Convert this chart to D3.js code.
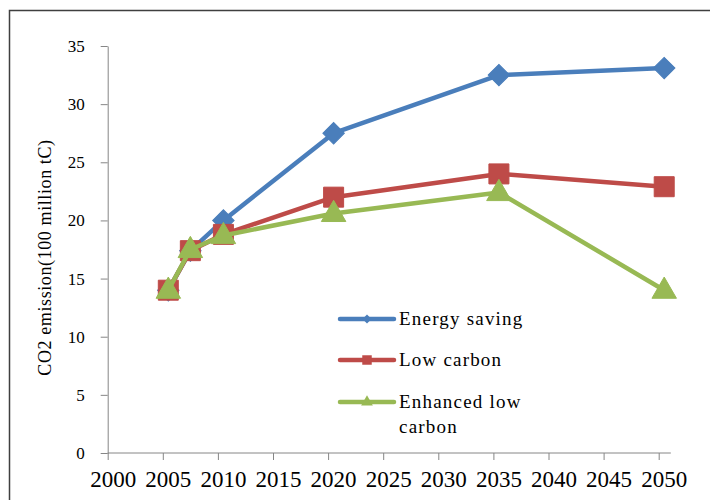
<!DOCTYPE html>
<html>
<head>
<meta charset="utf-8">
<script src="https://cdn.jsdelivr.net/npm/d3@7"></script>
<style>
  body { margin: 0; background: #fff; }
  svg { display: block; }
</style>
</head>
<body>
<div id="chart"></div>
<script>
// DATA ---------------------------------------------------------------
const years = [2005.5, 2007.5, 2010.5, 2020.5, 2035.5, 2050.5];
const energySaving = [14.0, 17.4, 20.0, 27.5, 32.5, 33.1];
const lowCarbon = [14.0, 17.4, 18.8, 22.0, 24.0, 22.9];
const enhancedLowCarbon = [14.0, 17.5, 18.7, 20.6, 22.4, 14.0];
const seriesNames = ["Energy saving", "Low carbon", "Enhanced low carbon"];
const xTicks = [2000, 2005, 2010, 2015, 2020, 2025, 2030, 2035, 2040, 2045, 2050];
const yTicks = [0, 5, 10, 15, 20, 25, 30, 35];
// DATA ---------------------------------------------------------------

const width = 710, height = 500;
const serif = "'Liberation Serif', 'Times New Roman', Times, serif";
const colors = ["#4A7EBB", "#BE4B48", "#98B954"];
const shapes = ["diamond", "square", "triangle"];

const svg = d3.select("#chart").append("svg")
  .attr("width", width).attr("height", height)
  .style("font-family", serif);

// outer frame
svg.append("rect")
  .attr("x", 9.5).attr("y", 10.5)
  .attr("width", 720).attr("height", 520)
  .attr("fill", "none").attr("stroke", "#3f3f3f").attr("stroke-width", 1.5);

const x = d3.scaleLinear().domain([2000, 2050]).range([107.7, 658.7]);
const y = d3.scaleLinear().domain([0, 35]).range([453, 46]);

// AXES
const xAxis = svg.append("g")
  .attr("transform", `translate(0,${y(0)})`)
  .call(d3.axisBottom(x).tickValues(xTicks).tickFormat(d3.format("d")).tickSize(7).tickSizeOuter(0))
  .attr("font-family", null).attr("font-size", null);
xAxis.select(".domain").remove();
xAxis.append("line")
  .attr("x1", x(2000)).attr("x2", x(2051.1))
  .attr("stroke", "#868686");
xAxis.selectAll(".tick line").attr("stroke", "#868686");
xAxis.selectAll(".tick text")
  .attr("fill", "#000").attr("x", 5).attr("y", 34).attr("dy", null)
  .style("font-family", serif)
  .style("font-size", "23px");

const yAxis = svg.append("g")
  .attr("transform", `translate(${x(2000)},0)`)
  .call(d3.axisLeft(y).tickValues(yTicks).tickSize(7).tickSizeOuter(0))
  .attr("font-family", null).attr("font-size", null);
yAxis.select(".domain").attr("stroke", "#868686");
yAxis.selectAll(".tick line").attr("stroke", "#868686");
yAxis.selectAll(".tick text")
  .attr("fill", "#000").attr("x", -23)
  .style("font-family", serif)
  .style("font-size", "17px");

svg.append("text")
  .attr("transform", `translate(51,${(y(0) + y(35)) / 2 + 8}) rotate(-90)`)
  .attr("text-anchor", "middle")
  .style("font-family", serif)
  .style("font-size", "18px")
  .style("letter-spacing", "0.6px")
  .text("CO2 emission(100 million tC)");

// LINES
const allSeries = [energySaving, lowCarbon, enhancedLowCarbon];
const line = d3.line().x((d, i) => x(years[i])).y(d => y(d));

allSeries.forEach((vals, k) => {
  const g = svg.append("g").attr("class", `series series--${k}`);
  g.append("path")
    .datum(vals)
    .attr("d", line)
    .attr("fill", "none")
    .attr("stroke", colors[k])
    .attr("stroke-width", 4.5)
    .attr("stroke-linejoin", "round");
  g.selectAll("path.mark").data(vals).enter()
    .append("path")
    .attr("class", "mark")
    .attr("transform", (d, i) => {
      const rot = shapes[k] === "diamond" ? " rotate(45)" : "";
      return `translate(${x(years[i])},${y(d) + (shapes[k] === "triangle" ? 1 : 0)})${rot}`;
    })
    .attr("d", shapes[k] === "diamond" ? d3.symbol(d3.symbolSquare, 230)()
      : shapes[k] === "square" ? d3.symbol(d3.symbolSquare, 400)()
      : d3.symbol(d3.symbolTriangle, 260)())
    .attr("fill", colors[k])
    .attr("stroke", colors[k])
    .attr("stroke-width", 1);
});

// LEGEND
const legendY = [319, 360, 402];
const legend = svg.append("g");
seriesNames.forEach((name, k) => {
  const gy = legendY[k];
  legend.append("line")
    .attr("x1", 340).attr("x2", 394).attr("y1", gy).attr("y2", gy)
    .attr("stroke", colors[k]).attr("stroke-width", 4.5).attr("stroke-linecap", "round");
  legend.append("path")
    .attr("transform", `translate(367,${gy})` + (shapes[k] === "diamond" ? " rotate(45)" : ""))
    .attr("d", shapes[k] === "diamond" ? d3.symbol(d3.symbolSquare, 40)()
      : shapes[k] === "square" ? d3.symbol(d3.symbolSquare, 90)()
      : d3.symbol(d3.symbolTriangle, 60)())
    .attr("fill", colors[k]);
  const words = k === 2 ? ["Enhanced low", "carbon"] : [name];
  const t = legend.append("text")
    .attr("x", 399).attr("y", gy + 6)
    .style("font-family", serif)
    .style("font-size", "19px")
    .style("letter-spacing", "1.2px")
    .attr("fill", "#000");
  words.forEach((w, j) => {
    t.append("tspan").attr("x", 399).attr("dy", j === 0 ? 0 : 25).text(w);
  });
});
</script>
</body>
</html>
